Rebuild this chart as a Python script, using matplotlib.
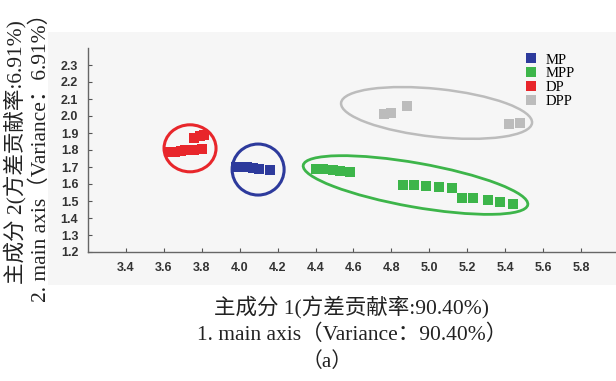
import matplotlib
matplotlib.use("Agg")
import matplotlib.pyplot as plt
from matplotlib.patches import Ellipse, Rectangle
from matplotlib.transforms import ScaledTranslation
from matplotlib.lines import Line2D

# Principal component scores (PC1, PC2) for each sample group
mp_x = [3.98, 4.01, 4.04, 4.07, 4.10, 4.16]
mp_y = [1.70, 1.70, 1.70, 1.695, 1.69, 1.68]

mpp_x = [4.40, 4.44, 4.49, 4.53, 4.58,
         4.86, 4.92, 4.98, 5.05, 5.12,
         5.17, 5.23, 5.31, 5.37, 5.44]
mpp_y = [1.69, 1.686, 1.68, 1.675, 1.67,
         1.595, 1.595, 1.59, 1.585, 1.575,
         1.52, 1.515, 1.505, 1.495, 1.485]

dp_x = [3.63, 3.66, 3.69, 3.71, 3.76, 3.80, 3.76, 3.79, 3.81]
dp_y = [1.79, 1.79, 1.795, 1.80, 1.80, 1.805, 1.87, 1.88, 1.89]

dpp_x = [4.76, 4.80, 4.88, 5.42, 5.48]
dpp_y = [2.01, 2.02, 2.06, 1.955, 1.96]

groups = ["MP", "MPP", "DP", "DPP"]
colors = {"MP": "#2d3a9c", "MPP": "#3db54a", "DP": "#e8262b", "DPP": "#bcbcbc"}

# Confidence ellipses: centre (data units), width/height (pixels), angle (deg)
ell_center = {"MP": (4.097, 1.685), "MPP": (4.927, 1.594),
              "DP": (3.738, 1.810), "DPP": (5.038, 2.018)}
ell_size = {"MP": (52, 51), "MPP": (228, 44), "DP": (52, 47), "DPP": (192, 48)}
ell_angle = {"MP": 0, "MPP": -10, "DP": 0, "DPP": -6}
ell_lw = {"MP": 2.2, "MPP": 2.0, "DP": 2.2, "DPP": 1.8}

x_ticks = [3.4, 3.6, 3.8, 4.0, 4.2, 4.4, 4.6, 4.8, 5.0, 5.2, 5.4, 5.6, 5.8]
y_ticks = [1.2, 1.3, 1.4, 1.5, 1.6, 1.7, 1.8, 1.9, 2.0, 2.1, 2.2, 2.3]

W, H = 616, 381
fig = plt.figure(figsize=(W / 100, H / 100), dpi=100)
fig.patch.set_facecolor("white")

# light grey panel behind the plot
fig.patches.append(Rectangle((48 / W, 1 - 285 / H), (W - 48) / W, (285 - 32) / H,
                             transform=fig.transFigure, facecolor="#f6f6f6",
                             edgecolor="none", zorder=0))

ax = fig.add_axes([88 / W, 1 - 252 / H, (619 - 88) / W, (252 - 48) / H])
ax.set_zorder(2)
ax.set_facecolor("none")
ax.set_xlim(3.2, 6.0)
ax.set_ylim(1.2, 2.4)

data = {"MP": (mp_x, mp_y), "MPP": (mpp_x, mpp_y),
        "DP": (dp_x, dp_y), "DPP": (dpp_x, dpp_y)}
for g in groups:
    xs, ys = data[g]
    ax.scatter(xs, ys, marker="s", s=58, color=colors[g], linewidths=0, zorder=3)
    cx, cy = ell_center[g]
    w, h = ell_size[g]
    e = Ellipse((0, 0), w / 100, h / 100, angle=ell_angle[g],
                transform=fig.dpi_scale_trans + ScaledTranslation(cx, cy, ax.transData),
                fill=False, edgecolor=colors[g], linewidth=ell_lw[g], zorder=2)
    ax.add_patch(e)

for s in ["top", "right"]:
    ax.spines[s].set_visible(False)
for s in ["left", "bottom"]:
    ax.spines[s].set_color("#666666")
    ax.spines[s].set_linewidth(1.0)

ax.set_xticks(x_ticks)
ax.set_yticks(y_ticks)
ax.set_xticklabels([f"{v:.1f}" for v in x_ticks])
ax.set_yticklabels([f"{v:.1f}" for v in y_ticks])
ax.tick_params(direction="in", length=3, width=0.8, color="#555555",
               labelsize=9, labelcolor="#333333", pad=7)
for lab in ax.get_xticklabels() + ax.get_yticklabels():
    lab.set_family("Liberation Sans")
    lab.set_fontweight("bold")

handles = [Line2D([], [], marker="s", linestyle="none", markersize=6.5,
                  markerfacecolor=colors[g], markeredgewidth=0) for g in groups]
leg = ax.legend(handles, groups, loc="upper left",
                bbox_to_anchor=(518 / W, 1 - 46 / H), bbox_transform=fig.transFigure,
                frameon=False, handlelength=0.8, handletextpad=0.6,
                labelspacing=0.05, borderpad=0,
                prop={"family": "Liberation Serif", "size": 10.5})

serif_cjk = ["Liberation Serif", "Noto Sans CJK SC"]
fig.text(352 / W, 1 - 307 / H, "主成分 1(方差贡献率:90.40%)", ha="center", va="center",
         fontsize=15.5, family=serif_cjk, color="#222222")
fig.text(352 / W, 1 - 335 / H, "1. main axis（Variance：90.40%）", ha="center", va="center",
         fontsize=15.5, family=serif_cjk, color="#222222")
fig.text(327 / W, 1 - 362 / H, "（a）", ha="center", va="center",
         fontsize=15, family=serif_cjk, color="#222222")

fig.text(15 / W, 1 - 152 / H, "主成分 2(方差贡献率:6.91%)", ha="center", va="center",
         rotation=90, fontsize=15.5, family=serif_cjk, color="#222222")
fig.text(41 / W, 1 - 152 / H, "2. main axis（Variance：6.91%）", ha="center", va="center",
         rotation=90, fontsize=15.5, family=serif_cjk, color="#222222")

fig.savefig("out.png", dpi=100)
